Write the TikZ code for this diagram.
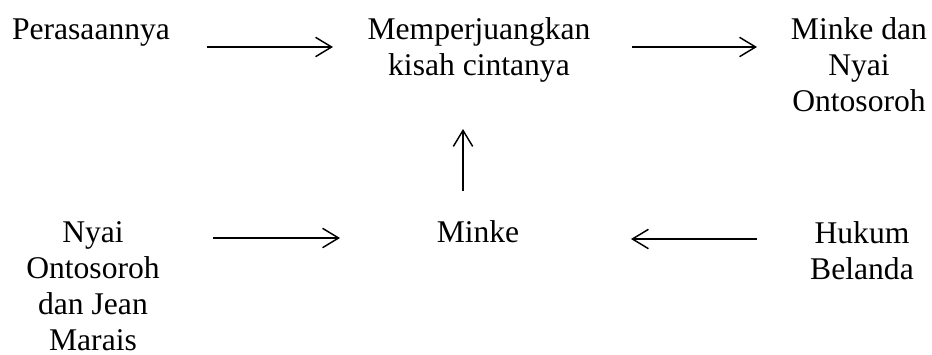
\documentclass[tikz,border=0pt]{standalone}
\usepackage{fontspec}
\setmainfont{Liberation Serif}
\usetikzlibrary{arrows.meta}
\begin{document}
\begin{tikzpicture}[x=0.75pt,y=-0.75pt,
  lbl/.style={align=center,inner sep=0pt,anchor=base,font=\fontsize{23.7pt}{27pt}\selectfont},
  arr/.style={line width=1.1pt,-{Straight Barb[length=12pt,width=14.5pt,line width=1.1pt]}}]
\useasboundingbox (0,0) rectangle (932,354);
% anchor=base is the baseline of the last line
\node[lbl] (pe) at (91,39) {Perasaannya};
\node[lbl] (me) at (479,75) {Memperjuangkan\\kisah cintanya};
\node[lbl] (md) at (859,111) {Minke dan\\Nyai\\Ontosoroh};
\node[lbl] (ny) at (93,350) {Nyai\\Ontosoroh\\dan Jean\\Marais};
\node[lbl] (mi) at (478,242) {Minke};
\node[lbl] (hu) at (862,279) {Hukum\\Belanda};
\coordinate (a1s) at (207,47); \coordinate (a1e) at (333,47);
\coordinate (a2s) at (632,47); \coordinate (a2e) at (757,47);
\coordinate (a3s) at (463,191); \coordinate (a3e) at (463,129);
\coordinate (a4s) at (213,238); \coordinate (a4e) at (340,238);
\coordinate (a5s) at (757,239); \coordinate (a5e) at (631,239);
\draw[arr] (a1s) -- (a1e);
\draw[arr] (a2s) -- (a2e);
\draw[arr] (a3s) -- (a3e);
\draw[arr] (a4s) -- (a4e);
\draw[arr] (a5s) -- (a5e);
\end{tikzpicture}
\end{document}
